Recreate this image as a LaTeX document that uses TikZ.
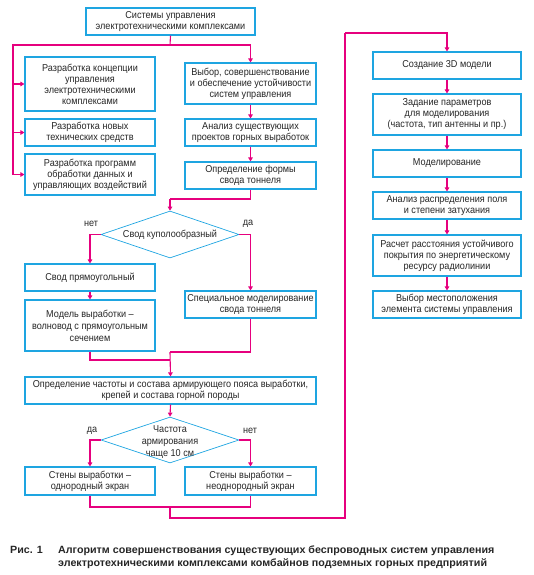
\documentclass[tikz,border=0pt]{standalone}
\usepackage{fontspec}
\setmainfont{Liberation Sans}[FakeStretch=0.91]
\newfontfamily\capfont{Liberation Sans}[FakeStretch=1.02]
\usetikzlibrary{arrows.meta,shapes.geometric}
\definecolor{bcyan}{RGB}{30,165,225}
\definecolor{lmag}{RGB}{230,0,126}
\begin{document}
\begin{tikzpicture}[x=1pt,y=-1pt,
  box/.style={draw=bcyan,line width=1.1pt,fill=white,inner sep=1pt,align=center,
    font=\fontsize{10}{11}\selectfont,text=black!85},
  dia/.style={draw=bcyan,line width=0.7pt,diamond,aspect=2.9,inner sep=0pt,align=center,
    font=\fontsize{10}{11}\selectfont,text=black!85},
  conn/.style={draw=lmag,line width=1.1pt},
  arr/.style={conn,-{Triangle[width=4.5pt,length=4pt]}},
  lbl/.style={font=\fontsize{10}{11}\selectfont,text=black!85,inner sep=0pt},
  captxt/.style={font=\capfont\bfseries\fontsize{10.5}{11}\selectfont,text=black!85,inner sep=0pt,anchor=base west}]
\useasboundingbox (0,0) rectangle (534,575);
% left / middle column
\node[box,minimum width=169pt,minimum height=27pt] (top) at (170.5,21.5) {Системы управления\\электротехническими комплексами};
\node[box,minimum width=130pt,minimum height=54pt] (L1) at (90,84) {Разработка концепции\\управления\\электротехническими\\комплексами};
\node[box,minimum width=130pt,minimum height=27pt] (L2) at (90,132.5) {Разработка новых\\технических средств};
\node[box,minimum width=130pt,minimum height=41pt] (L3) at (90,174.5) {Разработка программ\\обработки данных и\\управляющих воздействий};
\node[box,minimum width=131pt,minimum height=41pt] (R1) at (250.5,83.5) {Выбор, совершенствование\\и обеспечение устойчивости\\систем управления};
\node[box,minimum width=131pt,minimum height=27pt] (R2) at (250.5,132.5) {Анализ существующих\\проектов горных выработок};
\node[box,minimum width=131pt,minimum height=27pt] (R3) at (250.5,175.5) {Определение формы\\свода тоннеля};
\node[dia,minimum width=138pt,minimum height=47pt] (D1) at (170,234.5) {Свод куполообразный};
\node[box,minimum width=130pt,minimum height=27pt] (B1) at (90,277.5) {Свод прямоугольный};
\node[box,minimum width=130pt,minimum height=51pt,font=\fontsize{10}{12}\selectfont] (B2) at (90,325.5) {Модель выработки –\\волновод с прямоугольным\\сечением};
\node[box,minimum width=131pt,minimum height=27pt] (S) at (250.5,304.5) {Специальное моделирование\\свода тоннеля};
\node[box,minimum width=291pt,minimum height=27pt] (Big) at (170.5,390.5) {Определение частоты и состава армирующего пояса выработки,\\крепей и состава горной породы};
\node[dia,minimum width=138pt,minimum height=46pt,font=\fontsize{10}{12}\selectfont] (D2) at (170,440) {\smash{\raisebox{-4.5pt}{\begin{tabular}{@{}c@{}}Частота\\армирования\\чаще 10 см\end{tabular}}}};
\node[box,minimum width=130pt,minimum height=28pt] (W1) at (90,481) {Стены выработки –\\однородный экран};
\node[box,minimum width=131pt,minimum height=28pt] (W2) at (250.5,481) {Стены выработки –\\неоднородный экран};
% right column
\node[box,minimum width=148pt,minimum height=27pt] (C1) at (447,65.5) {Создание 3D модели};
\node[box,minimum width=148pt,minimum height=41pt] (C2) at (447,114.5) {Задание параметров\\для моделирования\\(частота, тип антенны и пр.)};
\node[box,minimum width=148pt,minimum height=27pt] (C3) at (447,163.5) {Моделирование};
\node[box,minimum width=148pt,minimum height=27pt] (C4) at (447,205.5) {Анализ распределения поля\\и степени затухания};
\node[box,minimum width=148pt,minimum height=41pt] (C5) at (447,255.5) {Расчет расстояния устойчивого\\покрытия по энергетическому\\ресурсу радиолинии};
\node[box,minimum width=148pt,minimum height=27pt] (C6) at (447,304.5) {Выбор местоположения\\элемента системы управления};
% labels
\node[lbl] (n1) at (91,224) {нет};
\node[lbl] (d1) at (248,224) {да};
\node[lbl] (d2) at (92,431) {да};
\node[lbl] (n2) at (250,431) {нет};
% coordinates
\coordinate (j1) at (170,45);
\coordinate (lx) at (13,45);
\coordinate (j2) at (170,199);
\coordinate (j3) at (170,352);
\coordinate (j3b) at (170,360);
\coordinate (j4) at (170,507);
\coordinate (j5) at (170,518);
\coordinate (j6) at (345,518);
\coordinate (j7) at (345,33);
% connectors
\draw[conn] (top.south) -- (j1);
\draw[arr] (j1) -| (R1.north);
\draw[conn] (j1) -- (lx) -- (lx |- L3.west);
\draw[arr] (lx |- L1.west) -- (L1.west);
\draw[arr] (lx |- L2.west) -- (L2.west);
\draw[arr] (lx |- L3.west) -- (L3.west);
\draw[arr] (R1.south) -- (R2.north);
\draw[arr] (R2.south) -- (R3.north);
\draw[conn] (R3.south) |- (j2);
\draw[arr] (j2) -- (D1.north);
\draw[arr] (D1.west) -| (B1.north);
\draw[arr] (D1.east) -| (S.north);
\draw[arr] (B1.south) -- (B2.north);
\draw[conn] (B2.south) |- (j3b);
\draw[conn] (S.south) |- (j3);
\draw[arr] (j3) -- (Big.north);
\draw[arr] (Big.south) -- (D2.north);
\draw[arr] (D2.west) -| (W1.north);
\draw[arr] (D2.east) -| (W2.north);
\draw[conn] (W1.south) |- (j4);
\draw[conn] (W2.south) |- (j4);
\draw[conn] (j4) -- (j5) -- (j6) -- (j7);
\draw[arr] (j7) -| (C1.north);
\draw[arr] (C1.south) -- (C2.north);
\draw[arr] (C2.south) -- (C3.north);
\draw[arr] (C3.south) -- (C4.north);
\draw[arr] (C4.south) -- (C5.north);
\draw[arr] (C5.south) -- (C6.north);
% caption
\node[captxt] (capl) at (10,553) {Рис. 1};
\node[captxt] (capt1) at (58,553) {Алгоритм совершенствования существующих беспроводных систем управления};
\node[captxt] (capt2) at (58,566) {электротехническими комплексами комбайнов подземных горных предприятий};
\end{tikzpicture}
\end{document}
